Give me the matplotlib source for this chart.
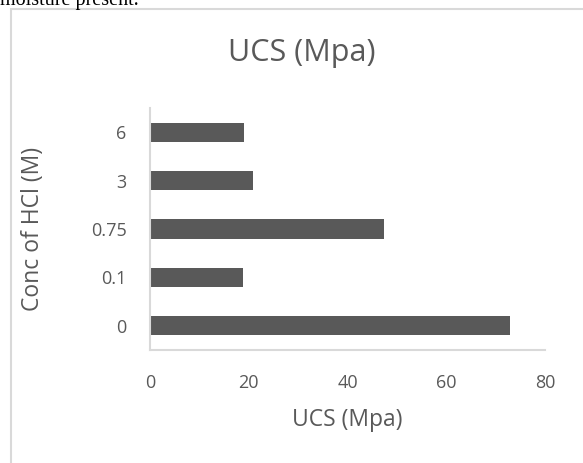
import matplotlib
matplotlib.use("Agg")
import matplotlib.pyplot as plt
from matplotlib.patches import Rectangle

# UCS results per HCl concentration
conc_labels = ["0", "0.1", "0.75", "3", "6"]
ucs_mpa = [72.9, 18.8, 47.4, 20.9, 19.0]
x_ticks = [0, 20, 40, 60, 80]

BAR = "#595959"
TEXT = "#595959"
AXIS = "#d9d9d9"

plt.rcParams["font.family"] = ["Open Sans", "DejaVu Sans"]

W, H = 583, 463
fig = plt.figure(figsize=(W / 100, H / 100), dpi=100)

# chart frame (runs off the right and bottom edges)
fig.patches.append(Rectangle((11 / W, -0.05), 1.1, 1 - 9 / H + 0.05,
                             transform=fig.transFigure, fill=False,
                             edgecolor=AXIS, linewidth=1.5))

# running text from the page above the chart
fig.text(0.0, 1 - 5 / H, "moisture present.", family="Liberation Serif",
         fontsize=14.5, color="black", ha="left", va="baseline")

ax = fig.add_axes([150 / W, 1 - 350 / H, 395 / W, 242 / H])
pos = list(range(len(conc_labels)))
ax.barh(pos, ucs_mpa, height=0.4, color=BAR)

ax.set_xlim(0, 80)
ax.set_ylim(-0.5, len(conc_labels) - 0.5)
ax.set_xticks(x_ticks)
ax.set_yticks(pos)
ax.set_yticklabels(conc_labels)
ax.tick_params(length=0, labelsize=13, labelcolor=TEXT)
ax.tick_params(axis="x", pad=17)
ax.tick_params(axis="y", pad=17)

for side in ("top", "right"):
    ax.spines[side].set_visible(False)
for side in ("left", "bottom"):
    ax.spines[side].set_color(AXIS)
    ax.spines[side].set_linewidth(1.5)

ax.set_xlabel("UCS (Mpa)", fontsize=16.5, color=TEXT)
ax.xaxis.set_label_coords(0.5, -0.238)
ax.set_ylabel("Conc of HCl (M)", fontsize=16.5, color=TEXT)
ax.yaxis.set_label_coords(-0.265, 0.5)

fig.text(302 / W, 1 - 53 / H, "UCS (Mpa)", fontsize=22, color=TEXT,
         ha="center", va="center")

fig.savefig("out.png", dpi=100)
